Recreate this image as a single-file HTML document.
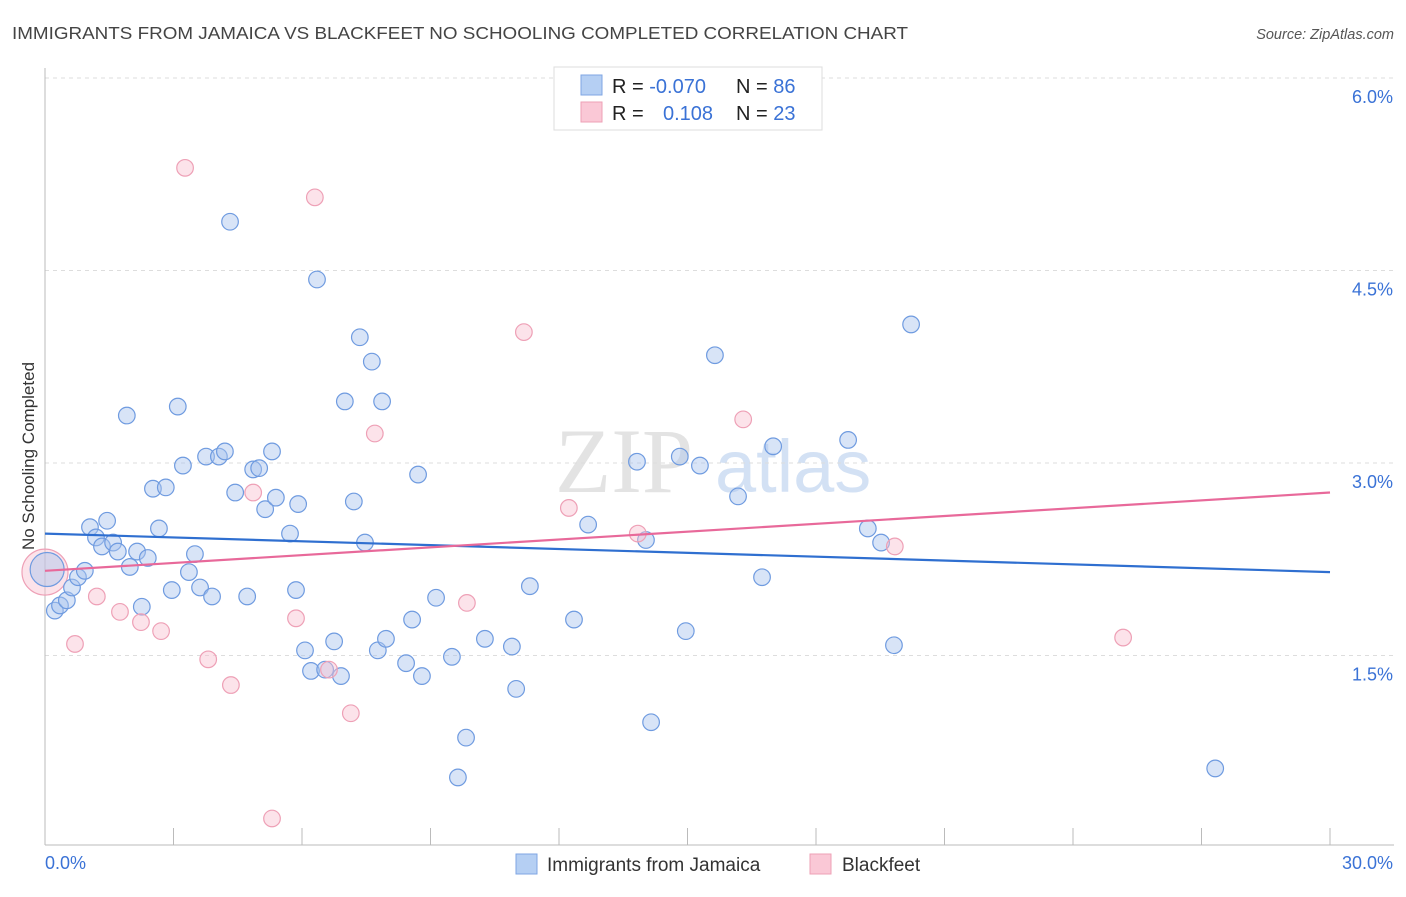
<!DOCTYPE html>
<html><head><meta charset="utf-8"><style>
body{margin:0;background:#fff;font-family:"Liberation Sans",sans-serif;}
</style></head><body>
<svg id="chart" width="1406" height="892" xmlns="http://www.w3.org/2000/svg" font-family="Liberation Sans, sans-serif">
<text x="12" y="39" font-size="17.5" fill="#444" textLength="896" lengthAdjust="spacingAndGlyphs">IMMIGRANTS FROM JAMAICA VS BLACKFEET NO SCHOOLING COMPLETED CORRELATION CHART</text>
<text x="1394" y="39" font-size="14.5" fill="#555" font-style="italic" text-anchor="end">Source: ZipAtlas.com</text>
<text transform="translate(34,456) rotate(-90)" font-size="17" fill="#333" text-anchor="middle">No Schooling Completed</text>
<g><text x="555" y="492" font-size="92" fill="#ddd" font-family="Liberation Serif, serif" opacity="0.8">ZIP</text><text x="715" y="492" font-size="74" fill="#c9daf2" opacity="0.8">atlas</text></g>
<g id="grid"></g><g id="marks"></g><g id="lines"></g>
<g>
<rect x="554" y="67" width="268" height="63" fill="#fff" stroke="#ddd"/>
<rect x="581" y="75" width="21" height="20" fill="#b5cff3" stroke="#7fa6e3"/>
<rect x="581" y="102" width="21" height="20" fill="#fac8d6" stroke="#eea0b6"/>
<text x="612" y="93" font-size="20" fill="#222">R = <tspan fill="#3a72d6">-0.070</tspan></text>
<text x="736" y="93" font-size="20" fill="#222">N = <tspan fill="#3a72d6">86</tspan></text>
<text x="612" y="120" font-size="20" fill="#222">R = </text><text x="663" y="120" font-size="20" fill="#3a72d6">0.108</text>
<text x="736" y="120" font-size="20" fill="#222">N = <tspan fill="#3a72d6">23</tspan></text>
</g>
<g>
<rect x="516" y="854" width="21" height="20" fill="#b5cff3" stroke="#7fa6e3"/>
<text x="547" y="871" font-size="19" fill="#333">Immigrants from Jamaica</text>
<rect x="810" y="854" width="21" height="20" fill="#fac8d6" stroke="#eea0b6"/>
<text x="842" y="871" font-size="19" fill="#333">Blackfeet</text>
</g>
</svg>
<script>
const yTicks=[1.5,3.0,4.5,6.0];
const yTickLabels=["1.5%","3.0%","4.5%","6.0%"];
const xEndLabels=["0.0%","30.0%"];
const jamX=[0.23,0.35,0.51,0.63,0.77,0.93,1.05,1.19,1.33,1.45,1.59,1.70,1.91,1.98,2.15,2.26,2.40,2.52,2.66,2.82,2.96,3.10,3.22,3.36,3.50,3.62,3.76,3.90,4.06,4.20,4.32,4.44,4.72,4.86,5.00,5.14,5.30,5.39,5.72,5.86,5.91,6.07,6.21,6.35,6.54,6.75,6.91,7.00,7.21,7.35,7.47,7.63,7.77,7.87,7.96,8.43,8.57,8.71,8.80,9.13,9.50,9.64,9.83,10.27,10.90,11.00,11.32,12.35,12.68,13.82,14.03,14.15,14.82,14.96,15.29,15.64,16.18,16.74,17.00,18.75,19.21,19.52,19.82,20.22,27.32];
const jamY=[1.85,1.89,1.93,2.03,2.11,2.16,2.50,2.42,2.35,2.55,2.38,2.31,3.37,2.19,2.31,1.88,2.26,2.80,2.49,2.81,2.01,3.44,2.98,2.15,2.29,2.03,3.05,1.96,3.05,3.09,4.88,2.77,1.96,2.95,2.96,2.64,3.09,2.73,2.45,2.01,2.68,1.54,1.38,4.43,1.39,1.61,1.34,3.48,2.70,3.98,2.38,3.79,1.54,3.48,1.63,1.44,1.78,2.91,1.34,1.95,1.49,0.55,0.86,1.63,1.57,1.24,2.04,1.78,2.52,3.01,2.40,0.98,3.05,1.69,2.98,3.84,2.74,2.11,3.13,3.18,2.49,2.38,1.58,4.08,0.62];
const bfX=[0.70,1.21,1.75,2.24,2.71,3.27,3.81,4.34,4.86,5.30,5.86,6.30,6.63,7.14,7.70,9.85,11.18,12.23,13.84,16.30,19.84,25.17];
const bfY=[1.59,1.96,1.84,1.76,1.69,5.30,1.47,1.27,2.77,0.23,1.79,5.07,1.39,1.05,3.23,1.91,4.02,2.65,2.45,3.34,2.35,1.64];
const jamBig=[0.05,2.17];const bfBig=[0.0,2.15];
const jamTrend=[2.45,2.15];const bfTrend=[2.16,2.77];
const xDomain=[0,30];
const NS="http://www.w3.org/2000/svg";
const sx=v=>45+(v-xDomain[0])/(xDomain[1]-xDomain[0])*1285;
const sy=v=>848-v*128.33;
function mk(tag,attrs,parent){const e=document.createElementNS(NS,tag);for(const k in attrs)e.setAttribute(k,attrs[k]);parent.appendChild(e);return e;}
const grid=document.getElementById('grid'),marks=document.getElementById('marks'),lines=document.getElementById('lines');
yTicks.forEach((t,i)=>{
 const l=mk('line',{x1:45,x2:1394,y1:sy(t),y2:sy(t),stroke:'#ddd','stroke-dasharray':'4,4'},grid);
 
 
 const tx=mk('text',{x:1393,y:sy(t)+25,'font-size':18,fill:'#3a72d6','text-anchor':'end'},grid);tx.textContent=yTickLabels[i];
 
 
});
const ax=mk('line',{x1:45,x2:1394,y1:845,y2:845,stroke:'#bbb'},grid);


const ay=mk('line',{x1:45,x2:45,y1:68,y2:845,stroke:'#bbb'},grid);


for(let i=1;i<=10;i++){const v=i*3;const t=mk('line',{x1:sx(v),x2:sx(v),y1:828,y2:845,stroke:'#bbb'},grid);
 
 }
const l0=mk('text',{x:45,y:869,'font-size':18,fill:'#3a72d6'},grid);l0.textContent=xEndLabels[0];


const l1=mk('text',{x:1393,y:869,'font-size':18,fill:'#3a72d6','text-anchor':'end'},grid);l1.textContent=xEndLabels[1];


function dot(x,y,r,fill,stroke,name){const c=mk('circle',{cx:sx(x),cy:sy(y),r:r,fill:fill,'fill-opacity':0.45,stroke:stroke,'stroke-width':1.2},marks);
 
 }
dot(bfBig[0],bfBig[1],23,'#f8c0d0','#eea0b6','blackfeet-point');
dot(jamBig[0],jamBig[1],17,'#a9c4ee','#6f9be0','jamaica-point');
jamX.forEach((x,i)=>dot(x,jamY[i],8.3,'#a9c4ee','#6f9be0','jamaica-point'));
bfX.forEach((x,i)=>dot(x,bfY[i],8.3,'#f8c0d0','#eea0b6','blackfeet-point'));
const tj=mk('line',{x1:sx(0),x2:sx(30),y1:sy(jamTrend[0]),y2:sy(jamTrend[1]),stroke:'#2f6fd0','stroke-width':2.2},lines);


const tb=mk('line',{x1:sx(0),x2:sx(30),y1:sy(bfTrend[0]),y2:sy(bfTrend[1]),stroke:'#e8699a','stroke-width':2.2},lines);


</script>
</body></html>
